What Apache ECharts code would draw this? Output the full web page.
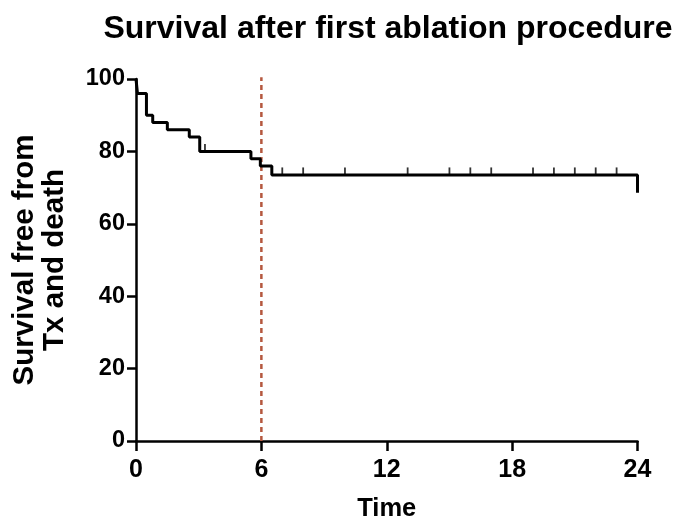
<!DOCTYPE html>
<html><head><meta charset="utf-8">
<script src="https://cdn.jsdelivr.net/npm/echarts@6/dist/echarts.min.js"></script>
<style>html,body{margin:0;padding:0;background:#fff}#c{width:679px;height:523px}</style>
</head><body><div id="c"></div>
<script>
// Kaplan-Meier step events: time (months) and survival (%) after each drop
const stepTimes  = [0, 0.07, 0.5, 0.8, 1.5, 2.55, 3.05, 5.5, 5.95, 6.5, 24, 24];
const stepValues = [100, 96, 90, 88, 86, 84, 80, 78, 76, 73.5, 73.5, 68.6];
// censored observations
const censorTimes  = [3.3, 7, 8, 10, 13, 15, 16, 17, 19, 20, 21, 22, 23];
const censorValues = [80, 73.5, 73.5, 73.5, 73.5, 73.5, 73.5, 73.5, 73.5, 73.5, 73.5, 73.5, 73.5];
const xTicks = [0, 6, 12, 18, 24];
const yTicks = [0, 20, 40, 60, 80, 100];
// reference line at 6 months
const refLineX = [6, 6];
const refLineY = [0, 100.5];

const FF = '"Liberation Sans", Arial, sans-serif';
const chart = echarts.init(document.getElementById('c'));
chart.setOption({
  animation: false,
  title: {
    text: 'Survival after first ablation procedure',
    left: 383, top: 8, textAlign: 'center',
    textStyle: {fontFamily: FF, fontWeight: 'bold', fontSize: 32, color: '#000'}
  },
  grid: {left: 136, right: 41.5, top: 79, bottom: 82, containLabel: false, outerBoundsMode: 'none'},
  xAxis: {
    type: 'value', min: 0, max: 24, interval: 6,
    name: 'Time', nameLocation: 'middle', nameGap: 55,
    nameTextStyle: {fontFamily: FF, fontWeight: 'bold', fontSize: 25.5, color: '#000'},
    axisLine: {lineStyle: {color: '#000', width: 2.5}},
    axisTick: {length: 10, lineStyle: {color: '#000', width: 2.5}},
    axisLabel: {fontFamily: FF, fontWeight: 'bold', fontSize: 25, color: '#000', margin: 17,
      formatter: v => xTicks.includes(v) ? String(v) : ''},
    splitLine: {show: false}
  },
  yAxis: {
    type: 'value', min: 0, max: 100, interval: 20,
    name: 'Survival free from\nTx and death', nameLocation: 'middle', nameGap: 66, nameRotate: 90,
    nameTextStyle: {fontFamily: FF, fontWeight: 'bold', fontSize: 29.5, color: '#000', lineHeight: 30},
    axisLine: {show: true, lineStyle: {color: '#000', width: 2.5}},
    axisTick: {show: true, length: 9, lineStyle: {color: '#000', width: 2.5}},
    axisLabel: {fontFamily: FF, fontWeight: 'bold', fontSize: 23.5, color: '#000', margin: 11,
      formatter: v => yTicks.includes(v) ? String(v) : ''},
    splitLine: {show: false}
  },
  series: [
    {
      type: 'line', clip: false, symbol: 'none', silent: true, z: 1,
      data: refLineX.map((x, i) => [x, refLineY[i]]),
      lineStyle: {color: '#b5583f', width: 2.5, type: [5, 4]}
    },
    {
      type: 'line', step: 'end', symbol: 'none', silent: true, z: 3,
      data: stepTimes.map((t, i) => [t, stepValues[i]]),
      lineStyle: {color: '#000', width: 3}
    },
    {
      type: 'scatter', silent: true, symbol: 'rect', symbolSize: [1.8, 7], symbolOffset: [0, -4], z: 3,
      itemStyle: {color: '#000'},
      data: censorTimes.map((t, i) => [t, censorValues[i]])
    }
  ]
});
</script></body></html>
